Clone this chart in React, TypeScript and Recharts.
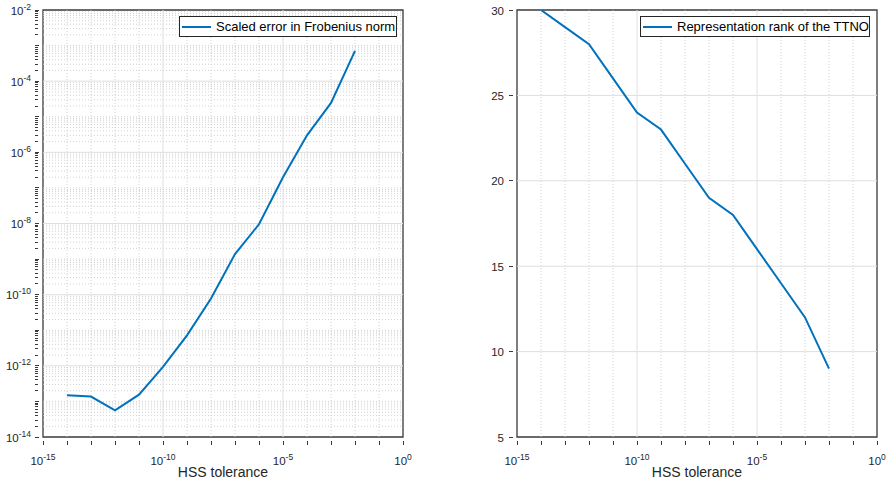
import React from 'react';
import { LineChart, Line, XAxis, YAxis, ReferenceLine, ReferenceArea, Legend, Label } from 'recharts';

// ---- data ----
const tolerance = [1e-14, 1e-13, 1e-12, 1e-11, 1e-10, 1e-9, 1e-8, 1e-7, 1e-6, 1e-5, 1e-4, 1e-3, 1e-2];
const scaledError = [1.5e-13, 1.37e-13, 5.6e-14, 1.55e-13, 9.3e-13, 7.2e-12, 7.8e-11, 1.38e-9, 9.5e-9, 2.0e-7, 3.0e-6, 2.45e-5, 7.1e-4];
const rank = [30, 29, 28, 26, 24, 23, 21, 19, 18, 16, 14, 12, 9];

const errorLabel = 'Scaled error in Frobenius norm';
const rankLabel = 'Representation rank of the TTNO';
const xAxisTitle = 'HSS tolerance';

// ---- ticks ----
const xMajorTicks = [1e-15, 1e-10, 1e-5, 1];
const xDecadeTicks = [1e-15, 1e-14, 1e-13, 1e-12, 1e-11, 1e-10, 1e-9, 1e-8, 1e-7, 1e-6, 1e-5, 1e-4, 1e-3, 1e-2, 1e-1, 1];
const yErrMajorTicks = [1e-14, 1e-12, 1e-10, 1e-8, 1e-6, 1e-4, 1e-2];
const yErrDecades = [1e-14, 1e-13, 1e-12, 1e-11, 1e-10, 1e-9, 1e-8, 1e-7, 1e-6, 1e-5, 1e-4, 1e-3, 1e-2];
const minorMultiples = [2, 3, 4, 5, 6, 7, 8, 9];
const rankTicks = [5, 10, 15, 20, 25, 30];

const yErrMinorTicks: number[] = [];
yErrDecades.slice(0, -1).forEach((d) => minorMultiples.forEach((m) => yErrMinorTicks.push(m * d)));
const yErrAllTicks = [...yErrDecades, ...yErrMinorTicks].sort((a, b) => a - b);

const errorData = tolerance.map((t, i) => ({ tol: t, err: scaledError[i] }));
const rankData = tolerance.map((t, i) => ({ tol: t, rank: rank[i] }));

// ---- style ----
const FONT = '"Liberation Sans", Arial, Helvetica, sans-serif';
const AX = '#262626';
const BOX = '#3a3a3a';
const LINE = '#0072BD';
const MAJOR_GRID = '#dfdfdf';
const MINOR_GRID = '#c8c8c8';

const isIn = (v: number, arr: number[]) => arr.some((a) => Math.abs(Math.log10(a) - Math.log10(v)) < 1e-6);
const isDecade = (v: number) => Math.abs(Math.log10(v) - Math.round(Math.log10(v))) < 1e-6;
const expOf = (v: number) => Math.round(Math.log10(v));

const PowLabel = ({ x, y, v, anchor }: any) => (
  <text x={x} y={y} textAnchor={anchor} fontFamily={FONT} fontSize={11.5} fill={AX}>
    <tspan>10</tspan>
    <tspan dy={-5} fontSize={8.5}>{String(expOf(v))}</tspan>
  </text>
);

const tickPath = (x: number, y: number, dx: number, dy: number) => (
  <path d={`M${x},${y}L${x + dx},${y + dy}`} stroke={BOX} strokeWidth={1} fill="none" shapeRendering="crispEdges" />
);

const BottomLogTick = (props: any) => {
  const { x, y, payload } = props;
  const v = payload.value;
  const major = isIn(v, xMajorTicks);
  return (
    <g>
      {tickPath(x, y, 0, -4)}
      {major && <PowLabel x={x} y={y + 20} v={v} anchor="middle" />}
    </g>
  );
};

const TopLogTick = (props: any) => {
  const { x, y } = props;
  return <g>{tickPath(x, y, 0, 4)}</g>;
};

const LeftErrTick = (props: any) => {
  const { x, y, payload } = props;
  const v = payload.value;
  const major = isIn(v, yErrMajorTicks);
  const len = isDecade(v) ? 4 : 2.5;
  return (
    <g>
      {tickPath(x, y, len, 0)}
      {major && <PowLabel x={x - 4} y={y + 4.5} v={v} anchor="end" />}
    </g>
  );
};

const RightErrTick = (props: any) => {
  const { x, y, payload } = props;
  const len = isDecade(payload.value) ? 4 : 2.5;
  return <g>{tickPath(x, y, -len, 0)}</g>;
};

const LeftRankTick = (props: any) => {
  const { x, y, payload } = props;
  return (
    <g>
      {tickPath(x, y, 4, 0)}
      <text x={x - 5} y={y + 4.5} textAnchor="end" fontFamily={FONT} fontSize={11.5} fill={AX}>
        {payload.value}
      </text>
    </g>
  );
};

const RightRankTick = (props: any) => {
  const { x, y } = props;
  return <g>{tickPath(x, y, -4, 0)}</g>;
};

const makeLegend = (text: string, width: number) => () => (
  <div
    style={{
      boxSizing: 'border-box',
      width,
      height: 21,
      border: `1px solid ${AX}`,
      background: '#fff',
      display: 'flex',
      alignItems: 'center',
      fontFamily: FONT,
      fontSize: 13,
      color: '#000',
      whiteSpace: 'nowrap',
    }}
  >
    <svg width={32} height={10} style={{ marginLeft: 2, marginRight: 2 }}>
      <line x1={0} y1={5} x2={29} y2={5} stroke={LINE} strokeWidth={2} />
    </svg>
    <span>{text}</span>
  </div>
);

export default function App() {
  return (
    <div style={{ position: 'absolute', left: 0, top: 0, width: 886, height: 485, background: '#fff' }}>
      <div style={{ position: 'absolute', left: 0, top: 0 }}>
        <LineChart width={443} height={485} data={errorData} margin={{ top: 10, right: 40, bottom: 0, left: 0 }}>
          {/* minor grid */}
          {xDecadeTicks
            .filter((v) => !isIn(v, xMajorTicks))
            .map((v) => (
              <ReferenceLine key={'xm' + v} x={v} stroke={MINOR_GRID} strokeDasharray="1 2" strokeWidth={0.8} />
            ))}
          {yErrAllTicks
            .filter((v) => !isIn(v, yErrMajorTicks))
            .map((v) => (
              <ReferenceLine key={'ym' + v} y={v} stroke={MINOR_GRID} strokeDasharray="1 2" strokeWidth={0.8} />
            ))}
          {/* major grid */}
          {xMajorTicks.slice(1, -1).map((v) => (
            <ReferenceLine key={'xM' + v} x={v} stroke={MAJOR_GRID} strokeWidth={1} />
          ))}
          {yErrMajorTicks.slice(1, -1).map((v) => (
            <ReferenceLine key={'yM' + v} y={v} stroke={MAJOR_GRID} strokeWidth={1} />
          ))}
          <ReferenceArea x1={1e-15} x2={1} y1={1e-14} y2={1e-2} fill="none" stroke={BOX} strokeWidth={1.3} ifOverflow="visible" />
          <XAxis
            dataKey="tol"
            type="number"
            scale="log"
            domain={[1e-15, 1]}
            allowDataOverflow
            ticks={xDecadeTicks}
            interval={0}
            tick={<BottomLogTick />}
            tickLine={false}
            stroke={BOX}
            axisLine={false}
            height={48}
          >
            <Label value={xAxisTitle} position="insideBottom" offset={8} style={{ fontFamily: FONT, fontSize: 14, fill: AX }} />
          </XAxis>
          <XAxis
            xAxisId="top"
            orientation="top"
            dataKey="tol"
            type="number"
            scale="log"
            domain={[1e-15, 1]}
            allowDataOverflow
            ticks={xDecadeTicks}
            interval={0}
            tick={<TopLogTick />}
            tickLine={false}
            axisLine={false}
            height={0}
          />
          <YAxis
            type="number"
            scale="log"
            domain={[1e-14, 1e-2]}
            allowDataOverflow
            ticks={yErrAllTicks}
            interval={0}
            tick={<LeftErrTick />}
            tickLine={false}
            axisLine={false}
            width={43}
          />
          <YAxis
            yAxisId="right"
            orientation="right"
            type="number"
            scale="log"
            domain={[1e-14, 1e-2]}
            allowDataOverflow
            ticks={yErrAllTicks}
            interval={0}
            tick={<RightErrTick />}
            tickLine={false}
            axisLine={false}
            width={0}
          />
          <Line
            dataKey="err"
            stroke={LINE}
            strokeWidth={2}
            dot={false}
            isAnimationActive={false}
            name={errorLabel}
          />
          <Legend
            layout="vertical"
            align="center"
            verticalAlign="middle"
            content={makeLegend(errorLabel, 218)}
            wrapperStyle={{ position: 'absolute', left: 179, top: 16, width: 218, height: 21 }}
          />
        </LineChart>
      </div>
      <div style={{ position: 'absolute', left: 443, top: 0 }}>
        <LineChart width={443} height={485} data={rankData} margin={{ top: 10, right: 9, bottom: 0, left: 40 }}>
          {xDecadeTicks
            .filter((v) => !isIn(v, xMajorTicks))
            .map((v) => (
              <ReferenceLine key={'xm' + v} x={v} stroke={MINOR_GRID} strokeDasharray="1 2" strokeWidth={0.8} />
            ))}
          {xMajorTicks.slice(1, -1).map((v) => (
            <ReferenceLine key={'xM' + v} x={v} stroke={MAJOR_GRID} strokeWidth={1} />
          ))}
          {rankTicks.slice(1, -1).map((v) => (
            <ReferenceLine key={'yM' + v} y={v} stroke={MAJOR_GRID} strokeWidth={1} />
          ))}
          <ReferenceArea x1={1e-15} x2={1} y1={5} y2={30} fill="none" stroke={BOX} strokeWidth={1.3} ifOverflow="visible" />
          <XAxis
            dataKey="tol"
            type="number"
            scale="log"
            domain={[1e-15, 1]}
            allowDataOverflow
            ticks={xDecadeTicks}
            interval={0}
            tick={<BottomLogTick />}
            tickLine={false}
            axisLine={false}
            height={48}
          >
            <Label value={xAxisTitle} position="insideBottom" offset={8} style={{ fontFamily: FONT, fontSize: 14, fill: AX }} />
          </XAxis>
          <XAxis
            xAxisId="top"
            orientation="top"
            dataKey="tol"
            type="number"
            scale="log"
            domain={[1e-15, 1]}
            allowDataOverflow
            ticks={xDecadeTicks}
            interval={0}
            tick={<TopLogTick />}
            tickLine={false}
            axisLine={false}
            height={0}
          />
          <YAxis
            type="number"
            domain={[5, 30]}
            allowDataOverflow
            ticks={rankTicks}
            interval={0}
            tick={<LeftRankTick />}
            tickLine={false}
            axisLine={false}
            width={34}
          />
          <YAxis
            yAxisId="right"
            orientation="right"
            type="number"
            domain={[5, 30]}
            allowDataOverflow
            ticks={rankTicks}
            interval={0}
            tick={<RightRankTick />}
            tickLine={false}
            axisLine={false}
            width={0}
          />
          <Line
            dataKey="rank"
            stroke={LINE}
            strokeWidth={2}
            dot={false}
            isAnimationActive={false}
            name={rankLabel}
          />
          <Legend
            layout="vertical"
            align="center"
            verticalAlign="middle"
            content={makeLegend(rankLabel, 230)}
            wrapperStyle={{ position: 'absolute', left: 197, top: 16, width: 230, height: 21 }}
          />
        </LineChart>
      </div>
    </div>
  );
}
